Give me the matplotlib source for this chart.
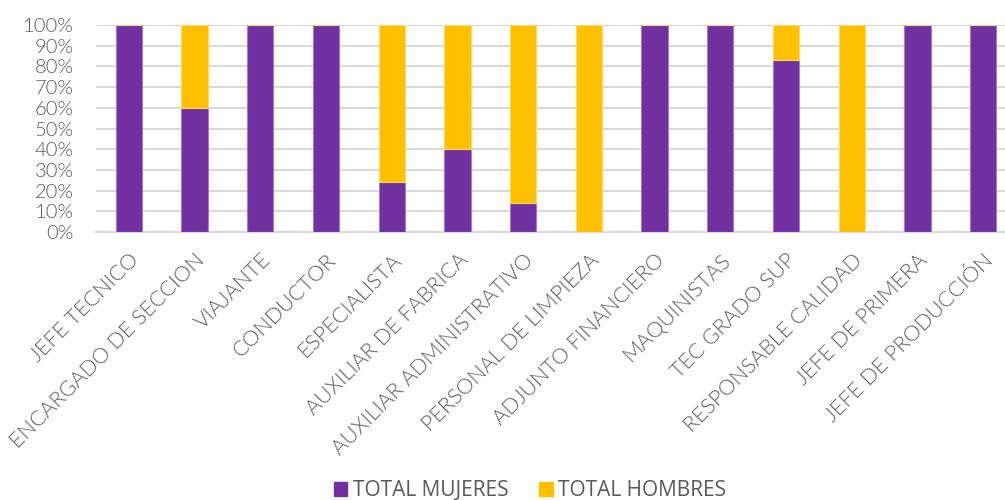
import matplotlib
matplotlib.use("Agg")
import matplotlib.pyplot as plt
import numpy as np
from matplotlib.patches import Patch

categories = ["JEFE TECNICO", "ENCARGADO DE SECCION", "VIAJANTE", "CONDUCTOR",
              "ESPECIALISTA", "AUXILIAR DE FABRICA", "AUXILIAR ADMINISTRATIVO",
              "PERSONAL DE LIMPIEZA", "ADJUNTO FINANCIERO", "MAQUINISTAS",
              "TEC GRADO SUP", "RESPONSABLE CALIDAD", "JEFE DE PRIMERA",
              "JEFE DE PRODUCCIÓN"]
mujeres = [1.0, 0.60, 1.0, 1.0, 0.24, 0.40, 0.14, 0.0, 1.0, 1.0, 0.83, 0.0, 1.0, 1.0]
hombres = [0.0, 0.40, 0.0, 0.0, 0.76, 0.60, 0.86, 1.0, 0.0, 0.0, 0.17, 1.0, 0.0, 0.0]
yticks = [0, 0.1, 0.2, 0.3, 0.4, 0.5, 0.6, 0.7, 0.8, 0.9, 1.0]
ytick_labels = ["0%", "10%", "20%", "30%", "40%", "50%", "60%", "70%", "80%", "90%", "100%"]

PURPLE = "#7030A0"
YELLOW = "#FFC000"
TEXT = "#5a5a5a"
W, H = 1005, 500

fig = plt.figure(figsize=(W / 100, H / 100), dpi=100)
left, right, top, bottom = 96, 1016, 25, 232
ax = fig.add_axes([left / W, 1 - bottom / H, (right - left) / W, (bottom - top) / H])

x = np.arange(len(categories))
bw = 0.40
ax.bar(x, mujeres, bw, color=PURPLE, edgecolor="#A57BC9", linewidth=0.8, zorder=3)
ax.bar(x, hombres, bw, bottom=mujeres, color=YELLOW, edgecolor="#FFD966", linewidth=0.8, zorder=3)

ax.set_xlim(-0.5, len(categories) - 0.5)
ax.set_ylim(0, 1.0)
ax.set_yticks(yticks)
ax.set_yticklabels(ytick_labels)
ax.yaxis.grid(True, color="#D9D9D9", linewidth=1.5, zorder=0)
ax.set_axisbelow(True)
for s in ["top", "right", "left"]:
    ax.spines[s].set_visible(False)
ax.spines["bottom"].set_color("#D9D9D9")
ax.spines["bottom"].set_linewidth(1.5)
ax.tick_params(axis="both", length=0)
ax.tick_params(axis="y", pad=16)

fam = ["Lato", "DejaVu Sans"]
for lbl in ax.get_yticklabels():
    lbl.set_fontfamily(fam)
    lbl.set_fontweight(300)
    lbl.set_color(TEXT)
    lbl.set_fontsize(14.5)
ax.set_xticks(x)
ax.set_xticklabels(categories, rotation=45, ha="right", va="top",
                   rotation_mode="anchor", family=fam, weight=300,
                   color=TEXT, fontsize=15.5)
ax.tick_params(axis="x", pad=13)

handles = [Patch(color=PURPLE, label="TOTAL MUJERES"), Patch(color=YELLOW, label="TOTAL HOMBRES")]
fig.legend(handles=handles, loc="center", bbox_to_anchor=(530 / W, 1 - 491 / H), ncol=2,
           frameon=False, handlelength=0.65, handleheight=0.65, handletextpad=0.25,
           columnspacing=1.5, prop={"family": ["Open Sans", "DejaVu Sans"], "size": 15},
           labelcolor="#595959", borderpad=0)

fig.savefig("out.png", dpi=100)
